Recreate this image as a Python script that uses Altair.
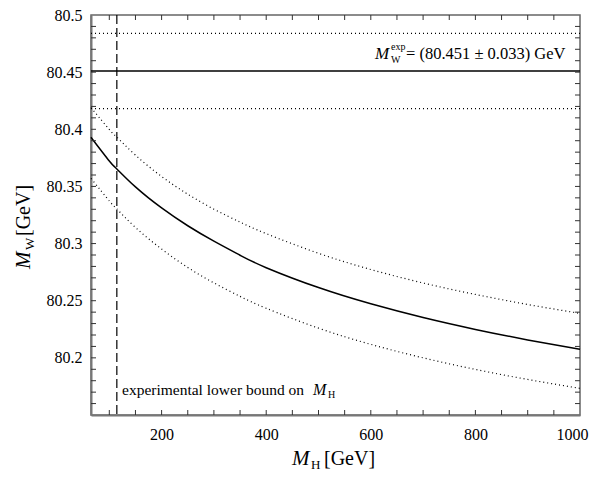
import altair as alt
import pandas as pd

# ---- data ----
MH = [65, 100, 114, 150, 200, 250, 300, 350, 400, 500, 600, 700, 800, 900, 1000]
MW_central = [80.3930, 80.3723, 80.3655, 80.3496, 80.3312, 80.3156, 80.3021, 80.2898,
              80.2789, 80.2615, 80.2473, 80.2353, 80.2249, 80.2157, 80.2075]
MW_upper = [80.4190, 80.3998, 80.3933, 80.3774, 80.3587, 80.3432, 80.3301, 80.3188,
            80.3087, 80.2915, 80.2773, 80.2655, 80.2555, 80.2467, 80.2389]
MW_lower = [80.3570, 80.3373, 80.3305, 80.3141, 80.2952, 80.2791, 80.2656, 80.2538,
            80.2434, 80.2260, 80.2118, 80.2000, 80.1899, 80.1811, 80.1733]

MW_exp = [80.451]
MW_exp_band = [80.484, 80.418]
MH_bound = [114.4]

x_labels = [200, 400, 600, 800, 1000]
y_labels = [80.2, 80.25, 80.3, 80.35, 80.4, 80.45, 80.5]
x_ticks = [100, 150, 200, 250, 300, 350, 400, 450, 500, 550, 600, 650, 700, 750,
           800, 850, 900, 950]
y_ticks = [80.16, 80.17, 80.18, 80.19, 80.2, 80.21, 80.22, 80.23, 80.24, 80.25,
           80.26, 80.27, 80.28, 80.29, 80.3, 80.31, 80.32, 80.33, 80.34, 80.35,
           80.36, 80.37, 80.38, 80.39, 80.4, 80.41, 80.42, 80.43, 80.44, 80.45,
           80.46, 80.47, 80.48, 80.49]

FONT = "Liberation Serif, Times New Roman, DejaVu Serif, serif"
W, H = 489, 400

xscale = alt.Scale(domain=[65, 1000], nice=False, zero=False)
yscale = alt.Scale(domain=[80.15, 80.5], nice=False, zero=False)

xaxis = alt.Axis(values=x_labels, title=None, ticks=False, grid=False, format="d",
                 labelFont=FONT, labelFontSize=16, labelPadding=11,
                 labelFlush=True, labelFlushOffset=8,
                 labelColor="black", domainColor="#777", domainWidth=2)
yaxis = alt.Axis(values=y_labels, title=None, ticks=False, grid=False, format=".2~f",
                 labelFont=FONT, labelFontSize=16, labelPadding=9,
                 labelColor="black", domainColor="#777", domainWidth=2)

curves = pd.DataFrame({"MH": MH, "central": MW_central, "upper": MW_upper, "lower": MW_lower})

central = alt.Chart(curves).mark_line(color="black", strokeWidth=1.5, interpolate="natural").encode(
    x=alt.X("MH:Q", scale=xscale, axis=xaxis),
    y=alt.Y("central:Q", scale=yscale, axis=yaxis),
)
upper = alt.Chart(curves).mark_line(color="black", strokeWidth=1.2, strokeDash=[1, 3],
                                    interpolate="natural").encode(
    x=alt.X("MH:Q", scale=xscale, axis=xaxis), y=alt.Y("upper:Q", scale=yscale, axis=yaxis))
lower = alt.Chart(curves).mark_line(color="black", strokeWidth=1.2, strokeDash=[1, 3],
                                    interpolate="natural").encode(
    x=alt.X("MH:Q", scale=xscale, axis=xaxis), y=alt.Y("lower:Q", scale=yscale, axis=yaxis))

exp_line = alt.Chart(pd.DataFrame({"v": MW_exp})).mark_rule(color="black", strokeWidth=1.5).encode(
    y=alt.Y("v:Q", scale=yscale, axis=yaxis))
exp_band = alt.Chart(pd.DataFrame({"v": MW_exp_band})).mark_rule(
    color="black", strokeWidth=1.2, strokeDash=[1, 3]).encode(y=alt.Y("v:Q", scale=yscale, axis=yaxis))
bound = alt.Chart(pd.DataFrame({"v": MH_bound})).mark_rule(
    color="black", strokeWidth=1.2, strokeDash=[9, 4]).encode(x=alt.X("v:Q", scale=xscale, axis=xaxis))

# inward ticks on all four sides
tick_style = dict(color="#333", strokeWidth=1)
yt = pd.DataFrame({"v": y_ticks})
xt = pd.DataFrame({"v": x_ticks})
t_left = alt.Chart(yt).mark_rule(**tick_style).encode(
    y=alt.Y("v:Q", scale=yscale, axis=yaxis), x=alt.value(0), x2=alt.value(5))
t_right = alt.Chart(yt).mark_rule(**tick_style).encode(
    y=alt.Y("v:Q", scale=yscale, axis=yaxis), x=alt.value(W - 5), x2=alt.value(W))
t_bottom = alt.Chart(xt).mark_rule(**tick_style).encode(
    x=alt.X("v:Q", scale=xscale, axis=xaxis), y=alt.value(H - 5), y2=alt.value(H))
t_top = alt.Chart(xt).mark_rule(**tick_style).encode(
    x=alt.X("v:Q", scale=xscale, axis=xaxis), y=alt.value(0), y2=alt.value(5))


def txt(s, x, y, size, italic=False, align="left", angle=0):
    kw = dict(font=FONT, fontSize=size, align=align, baseline="alphabetic", color="black")
    if italic:
        kw["fontStyle"] = "italic"
    if angle:
        kw["angle"] = angle
    return alt.Chart(pd.DataFrame({"t": [s]})).mark_text(**kw).encode(
        text="t:N", x=alt.value(x), y=alt.value(y))


texts = [
    # x axis title
    txt("M", 201, 450, 21, italic=True),
    txt("H", 220, 454, 13),
    txt("[GeV]", 233, 450, 20),
    # y axis title (rotated)
    txt("M", -61, 254, 21, italic=True, angle=270),
    txt("W", -57, 235, 13, angle=270),
    txt("[GeV]", -61, 221, 20, angle=270),
    # experimental value annotation
    txt("M", 284, 44, 17, italic=True),
    txt("W", 300, 48, 10),
    txt("exp", 300, 35, 10),
    txt("= (80.451 ± 0.033) GeV", 315, 44, 16.5),
    # lower bound annotation
    txt("experimental lower bound on", 31, 380, 15.5),
    txt("M", 222, 380, 16, italic=True),
    txt("H", 237, 383, 10),
]

chart = alt.layer(
    exp_band, exp_line, bound, upper, lower, central,
    t_left, t_right, t_bottom, t_top, *texts
).properties(
    width=W, height=H,
    autosize=alt.AutoSizeParams(type="none"),
    padding={"left": 83, "top": 7, "right": 9, "bottom": 57},
).configure_view(stroke="#666", strokeWidth=1.5)

chart.save("out.html", embed_options={"renderer": "svg", "actions": False})
